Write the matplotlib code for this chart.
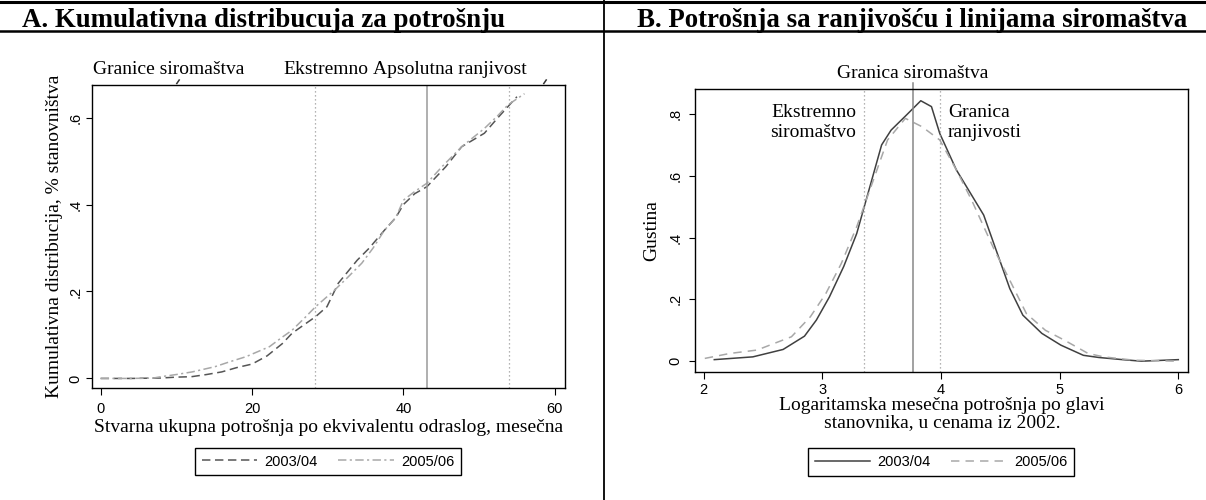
import matplotlib
matplotlib.use("Agg")
import matplotlib.pyplot as plt
from matplotlib.lines import Line2D
from matplotlib.transforms import blended_transform_factory

# ---------------- data ----------------
# Panel A: cumulative distribution of consumption
cdf_x_0304 = [0, 4, 8, 10, 12, 14, 16, 18, 20, 22, 24, 25.3, 27, 28.4, 29.9, 31.4, 33.9,
              35.5, 37.5, 39, 40, 41.5, 43.1, 45.6, 47.7, 50.7, 52.5, 53.8, 55]
cdf_y_0304 = [0, 0, 0.001, 0.003, 0.004, 0.009, 0.015, 0.025, 0.033, 0.052, 0.08, 0.104,
              0.125, 0.142, 0.165, 0.219, 0.272, 0.30, 0.341, 0.37, 0.40, 0.425, 0.441,
              0.487, 0.533, 0.564, 0.60, 0.625, 0.648]
cdf_x_0506 = [0, 4, 7, 8, 10, 12.1, 15.1, 17, 19.2, 22.3, 24, 25.3, 27, 28.4, 30.9, 32.5,
              34.5, 36, 37.5, 39, 40, 41.5, 43.1, 45.1, 47.7, 50.7, 52.5, 53.8, 56]
cdf_y_0506 = [0, 0, 0.001, 0.004, 0.009, 0.015, 0.027, 0.038, 0.05, 0.073, 0.095, 0.111,
              0.14, 0.165, 0.203, 0.23, 0.265, 0.30, 0.341, 0.37, 0.41, 0.43, 0.449,
              0.487, 0.533, 0.575, 0.605, 0.629, 0.655]
cdf_vlines_dotted = [28.35, 53.9]
cdf_vline_solid = 43.1
cdf_xticks = [0, 20, 40, 60]
cdf_yticks = [0, 0.2, 0.4, 0.6]
cdf_yticklabels = ["0", ".2", ".4", ".6"]
cdf_top_labels = ["Granice siromaštva", "Ekstremno", "Apsolutna ranjivost"]
cdf_top_label_x = [9.0, 29.8, 46.1]
series_labels = ["2003/04", "2005/06"]

# Panel B: density of log consumption
den_x_0304 = [2.09, 2.415, 2.67, 2.85, 2.95, 3.06, 3.18, 3.29, 3.5, 3.58, 3.71, 3.83, 3.92,
              3.99, 4.13, 4.36, 4.58, 4.69, 4.85, 5.01, 5.2, 5.33, 5.53, 5.69, 6.0]
den_y_0304 = [0.005, 0.014, 0.038, 0.081, 0.133, 0.208, 0.306, 0.413, 0.70, 0.748, 0.797,
              0.843, 0.824, 0.737, 0.619, 0.473, 0.235, 0.149, 0.09, 0.052, 0.019, 0.012,
              0.005, 0.0, 0.005]
den_x_0506 = [2.01, 2.22, 2.45, 2.74, 2.9, 3.03, 3.16, 3.29, 3.42, 3.55, 3.7, 3.84, 3.99,
              4.13, 4.26, 4.45, 4.58, 4.72, 4.88, 5.04, 5.24, 5.37, 5.63, 6.0]
den_y_0506 = [0.009, 0.025, 0.036, 0.079, 0.144, 0.219, 0.316, 0.435, 0.575, 0.716, 0.786,
              0.759, 0.716, 0.619, 0.52, 0.36, 0.262, 0.154, 0.10, 0.068, 0.025, 0.014,
              0.003, 0.0]
den_vlines_dotted = [3.353, 3.99]
den_vline_solid = 3.765
den_xticks = [2, 3, 4, 5, 6]
den_yticks = [0, 0.2, 0.4, 0.6, 0.8]
den_yticklabels = ["0", ".2", ".4", ".6", ".8"]

# ---------------- style ----------------
SERIF = ["Liberation Serif", "DejaVu Serif"]
SANS = ["Liberation Sans", "DejaVu Sans"]
plt.rcParams["font.family"] = SANS
W, H = 1206, 500
fig = plt.figure(figsize=(W / 100, H / 100), dpi=100)

LIGHT = "#a8a8a8"
VGRAY = "#9a9a9a"


def fx(px):
    return px / W


def fy(py):
    return 1 - py / H


def style_axes(ax, xticks, yticks, yticklabels, ypad, xpad):
    for s in ax.spines.values():
        s.set_linewidth(1.0)
        s.set_color("black")
    ax.set_xticks(xticks)
    ax.set_yticks(yticks)
    ax.set_yticklabels(yticklabels, rotation=90, va="center")
    ax.tick_params(axis="x", direction="out", length=5, width=0.8, labelsize=10.5,
                   pad=xpad, top=False)
    ax.tick_params(axis="y", direction="out", length=4, width=0.8, labelsize=10.5,
                   pad=ypad, right=False)
    for lab in ax.get_xticklabels() + ax.get_yticklabels():
        lab.set_family(SANS)


# ---------------- panel A ----------------
axA = fig.add_axes([fx(92.3), fy(388), fx(564.6) - fx(92.3), fy(85) - fy(388)])
lA1, = axA.plot(cdf_x_0304, cdf_y_0304, color="#555555", lw=1.1)
lA1.set_dashes([5.5, 3.0])
lA2, = axA.plot(cdf_x_0506, cdf_y_0506, color=LIGHT, lw=1.1)
lA2.set_dashes([5.5, 2.2, 1.4, 2.2])
for xv in cdf_vlines_dotted:
    axA.axvline(xv, color=VGRAY, lw=0.9, linestyle=(0, (1, 2.2)))
axA.axvline(cdf_vline_solid, color=VGRAY, lw=1.1)
axA.set_xlim(-1.1, 61.3)
axA.set_ylim(-0.022, 0.675)
style_axes(axA, cdf_xticks, cdf_yticks, cdf_yticklabels, ypad=3, xpad=5)
axA.set_xlabel("Stvarna ukupna potrošnja po ekvivalentu odraslog, mesečna",
               family=SERIF, fontsize=14, labelpad=2)
axA.set_ylabel("Kumulativna distribucija, % stanovništva", family=SERIF, fontsize=14,
               labelpad=4)
trA = blended_transform_factory(axA.transData, fig.transFigure)
for lab, xv in zip(cdf_top_labels, cdf_top_label_x):
    axA.text(xv, fy(74), lab, transform=trA, ha="center", va="baseline",
             family=SERIF, fontsize=14)
for mx in (178, 545):
    fig.add_artist(Line2D([fx(mx - 1.2), fx(mx + 1.2)], [fy(83.5), fy(80)],
                          transform=fig.transFigure, color="#333333", lw=1.1))
axA.legend([lA1, lA2], series_labels, ncol=2, loc="center",
           bbox_to_anchor=(fx(328), fy(461.5)), bbox_transform=fig.transFigure,
           frameon=True, fancybox=False, edgecolor="black", framealpha=1,
           prop={"family": SANS, "size": 10.5}, handlelength=3.8, handletextpad=0.5,
           columnspacing=1.4, borderpad=0.45)

# ---------------- panel B ----------------
axB = fig.add_axes([fx(695.3), fy(372), fx(1188.4) - fx(695.3), fy(89) - fy(372)])
lB1, = axB.plot(den_x_0304, den_y_0304, color="#404040", lw=1.1)
lB2, = axB.plot(den_x_0506, den_y_0506, color=LIGHT, lw=1.1)
lB2.set_dashes([5.5, 4.0])
for xv in den_vlines_dotted:
    axB.axvline(xv, color=VGRAY, lw=0.9, linestyle=(0, (1, 2.2)))
axB.axvline(den_vline_solid, ymin=0, ymax=1.02, color="#888888", lw=1.1, clip_on=False)
axB.set_xlim(1.93, 6.085)
axB.set_ylim(-0.035, 0.881)
style_axes(axB, den_xticks, den_yticks, den_yticklabels, ypad=5, xpad=3)
axB.set_xlabel("Logaritamska mesečna potrošnja po glavi\nstanovnika, u cenama iz 2002.",
               family=SERIF, fontsize=14, labelpad=0, linespacing=1.0)
axB.set_ylabel("Gustina", family=SERIF, fontsize=14, labelpad=6)
trB = blended_transform_factory(axB.transData, fig.transFigure)
axB.text(den_vline_solid, fy(78), "Granica siromaštva", transform=trB, ha="center",
         va="baseline", family=SERIF, fontsize=14)
axB.text(3.284, fy(117), "Ekstremno", transform=trB, ha="right", va="baseline",
         family=SERIF, fontsize=14)
axB.text(3.284, fy(137), "siromaštvo", transform=trB, ha="right", va="baseline",
         family=SERIF, fontsize=14)
axB.text(4.06, fy(117), "Granica", transform=trB, ha="left", va="baseline",
         family=SERIF, fontsize=14)
axB.text(4.06, fy(137), "ranjivosti", transform=trB, ha="left", va="baseline",
         family=SERIF, fontsize=14)
axB.legend([lB1, lB2], series_labels, ncol=2, loc="center",
           bbox_to_anchor=(fx(941), fy(462)), bbox_transform=fig.transFigure,
           frameon=True, fancybox=False, edgecolor="black", framealpha=1,
           prop={"family": SANS, "size": 10.5}, handlelength=3.8, handletextpad=0.5,
           columnspacing=1.4, borderpad=0.45)

# ---------------- titles and frame lines ----------------
fig.text(fx(22), fy(27), "A. Kumulativna distribucuja za potrošnju", family=SERIF,
         fontsize=19.4, fontweight="bold", ha="left", va="baseline")
fig.text(fx(637), fy(27), "B. Potrošnja sa ranjivošću i linijama siromaštva",
         family=SERIF, fontsize=19.4, fontweight="bold", ha="left", va="baseline")
fig.add_artist(Line2D([0, 1], [fy(1.5), fy(1.5)], transform=fig.transFigure,
                      color="black", lw=2.2))
fig.add_artist(Line2D([0, 1], [fy(31), fy(31)], transform=fig.transFigure,
                      color="black", lw=1.8))
fig.add_artist(Line2D([fx(604), fx(604)], [0, 1], transform=fig.transFigure,
                      color="black", lw=1.3))

fig.savefig("out.png", dpi=100, facecolor="white")
